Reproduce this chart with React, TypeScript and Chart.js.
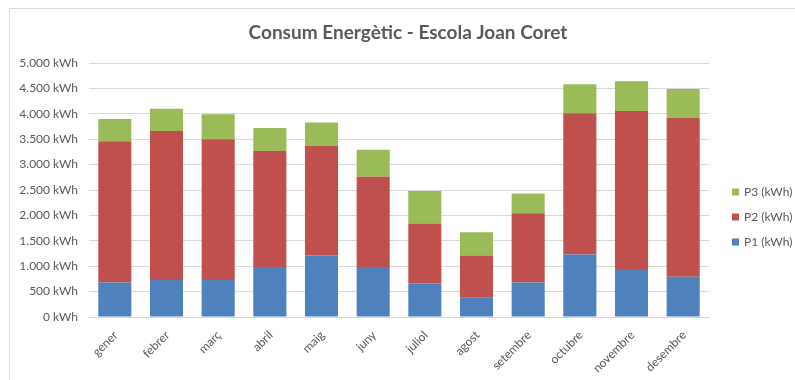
import React, { useEffect, useRef } from "react";
import { Chart, registerables } from "chart.js";

Chart.register(...registerables);

const TITLE = "Consum Energètic - Escola Joan Coret";
const MONTHS = ["gener", "febrer", "març", "abril", "maig", "juny", "juliol", "agost", "setembre", "octubre", "novembre", "desembre"];
const P1 = [680, 730, 730, 985, 1210, 985, 660, 380, 680, 1230, 945, 790];
const P2 = [2780, 2930, 2770, 2285, 2160, 1775, 1180, 830, 1360, 2780, 3110, 3130];
const P3 = [440, 440, 490, 450, 460, 530, 640, 460, 390, 570, 585, 570];
const SERIES_LABELS = ["P1 (kWh)", "P2 (kWh)", "P3 (kWh)"];
const Y_MAX = 5000;
const Y_STEP = 500;

const TEXT = "#595959";
const FONT = "Lato, 'Open Sans', sans-serif";

function fmt(v: number): string {
  const s = Math.round(v).toString();
  return s.replace(/\B(?=(\d{3})+(?!\d))/g, ".") + " kWh";
}

const overlay = {
  id: "overlay",
  afterDraw(chart: any) {
    const ctx = chart.ctx as CanvasRenderingContext2D;
    ctx.save();
    ctx.fillStyle = TEXT;
    ctx.font = `bold 19px ${FONT}`;
    ctx.textAlign = "center";
    ctx.textBaseline = "middle";
    ctx.fillText(TITLE, 408, 33);

    const ds = chart.data.datasets;
    const ys = [242, 217, 192];
    ctx.font = `12px ${FONT}`;
    ctx.textAlign = "left";
    ds.forEach((d: any, i: number) => {
      const y = ys[i];
      ctx.fillStyle = d.backgroundColor;
      ctx.fillRect(732, y - 3.5, 7, 7);
      ctx.fillStyle = TEXT;
      ctx.fillText(d.label, 744, y + 0.5);
    });
    ctx.restore();
  },
};

export default function App() {
  const ref = useRef<HTMLCanvasElement | null>(null);

  useEffect(() => {
    const prevMargin = document.body.style.margin;
    document.body.style.margin = "0";
    if (!ref.current) return;
    const chart = new Chart(ref.current, {
      type: "bar",
      data: {
        labels: MONTHS,
        datasets: [
          { label: SERIES_LABELS[0], data: P1, backgroundColor: "#4F81BD" },
          { label: SERIES_LABELS[1], data: P2, backgroundColor: "#C0504D" },
          { label: SERIES_LABELS[2], data: P3, backgroundColor: "#9BBB59" },
        ],
      },
      options: {
        animation: false,
        responsive: false,
        maintainAspectRatio: false,
        layout: { padding: { left: 0, right: 86, top: 63, bottom: 0 } },
        datasets: { bar: { barPercentage: 0.64, categoryPercentage: 1 } },
        plugins: {
          legend: { display: false },
          title: { display: false },
          tooltip: { enabled: false },
        },
        scales: {
          x: {
            stacked: true,
            grid: { display: false, drawTicks: false },
            border: { display: true, color: "#D9D9D9", width: 1 },
            ticks: {
              color: TEXT,
              font: { family: FONT, size: 12 },
              minRotation: 45,
              maxRotation: 45,
              padding: 11,
              labelOffset: 1,
              autoSkip: false,
            },
            afterFit(scale: any) {
              scale.height = 63;
            },
          },
          y: {
            stacked: true,
            min: 0,
            max: Y_MAX,
            grid: { color: "#D9D9D9", drawTicks: false },
            border: { display: false },
            ticks: {
              stepSize: Y_STEP,
              color: TEXT,
              font: { family: FONT, size: 12 },
              padding: 11,
              callback: (v: any) => fmt(Number(v)),
            },
            afterFit(scale: any) {
              scale.width = 89;
            },
          },
        },
      },
      plugins: [overlay],
    });
    return () => {
      chart.destroy();
      document.body.style.margin = prevMargin;
    };
  }, []);

  return (
    <div style={{ position: "relative", width: 795, height: 380, overflow: "hidden", background: "#fff" }}>
      <div
        style={{
          position: "absolute",
          left: 9,
          top: 8,
          width: 900,
          height: 500,
          border: "1px solid #D9D9D9",
          boxSizing: "border-box",
        }}
      />
      <canvas ref={ref} width={795} height={380} style={{ position: "absolute", left: 0, top: 0, display: "block" }} />
    </div>
  );
}
